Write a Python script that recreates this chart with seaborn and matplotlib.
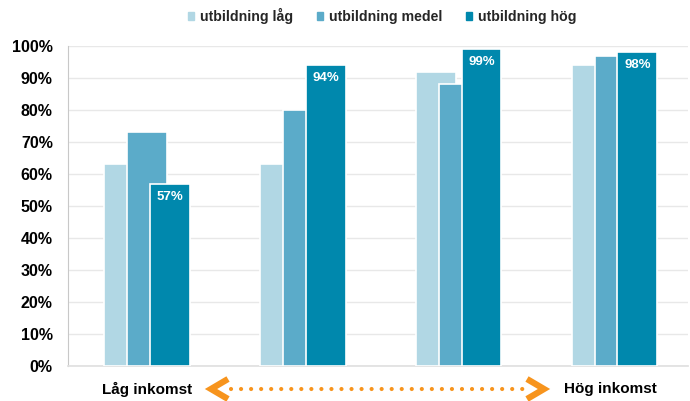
import matplotlib
matplotlib.use("Agg")
import matplotlib.pyplot as plt
import seaborn as sns
import pandas as pd
from matplotlib.lines import Line2D
from matplotlib.patches import Rectangle

groups = ["G1", "G2", "G3", "G4"]
series = ["utbildning låg", "utbildning medel", "utbildning hög"]
vals_lag = [63, 63, 92, 94]
vals_medel = [73, 80, 88, 97]
vals_hog = [57, 94, 99, 98]
yticks = [0, 10, 20, 30, 40, 50, 60, 70, 80, 90, 100]
colors = ["#b1d7e4", "#5babc9", "#0088ad"]

rows = []
for s, vals in zip(series, [vals_lag, vals_medel, vals_hog]):
    for g, v in zip(groups, vals):
        rows.append({"grupp": g, "serie": s, "värde": v})
df = pd.DataFrame(rows)

sns.set_theme(style="white")
plt.rcParams["font.family"] = ["Liberation Sans", "DejaVu Sans"]

fig = plt.figure(figsize=(6.9, 4.01), dpi=100)
ax = fig.add_axes([0.0986, 0.0873, 0.898, 0.798])

sns.barplot(data=df, x="grupp", y="värde", hue="serie", hue_order=series,
            palette=colors, width=0.44, dodge=True, ax=ax, legend=False,
            saturation=1, edgecolor="white", linewidth=1.2, zorder=3)

# widen bars so they overlap like in the reference
bar_w = 0.256
for p in ax.patches:
    p.set_width(bar_w)

ax.set_xlim(-0.451, 3.524)
ax.set_ylim(0, 100)
ax.set_yticks(yticks)
ax.set_yticklabels([f"{t}%" for t in yticks], fontweight="bold", fontsize=11.5, color="black")
ax.set_xticks([])
ax.set_xlabel("")
ax.set_ylabel("")
ax.tick_params(axis="y", length=0, pad=11)
ax.grid(axis="y", color="#e8e8e8", lw=1, zorder=0)
for side in ["top", "right"]:
    ax.spines[side].set_visible(False)
ax.spines["left"].set_color("#c8c8c8")
ax.spines["bottom"].set_color("#e0e0e0")
ax.spines["left"].set_linewidth(0.8)

# data labels on the "hög" bars
hog_patches = ax.patches[2 * len(groups):3 * len(groups)]
for p, v in zip(hog_patches, vals_hog):
    ax.text(p.get_x() + p.get_width() / 2, v - 2.2, f"{v}%", ha="center", va="top",
            color="white", fontweight="bold", fontsize=9.5, zorder=5)

# legend
handles = [Rectangle((0, 0), 1, 1, color=c) for c in colors]
fig.legend(handles, series, loc="upper center", bbox_to_anchor=(0.554, 1.012), ncol=3,
           frameon=False, prop={"weight": "bold", "size": 10.2},
           handlelength=0.42, handleheight=0.42, handletextpad=0.4, columnspacing=1.7)

# bottom annotation
fig.text(147 / 690, 1 - 389 / 401, "Låg inkomst", ha="center", va="center",
         fontweight="bold", fontsize=11, color="black")
fig.text(610 / 690, 1 - 389 / 401, "Hög inkomst", ha="center", va="center",
         fontweight="bold", fontsize=11, color="black")
orange = "#f7941d"
yc = 1 - 389 / 401
fig.add_artist(Line2D([231 / 690, 528 / 690], [yc, yc], transform=fig.transFigure,
                      color=orange, lw=3.0, linestyle=(0, (0.01, 2.4)),
                      dash_capstyle="round"))
dy = 10 / 401
fig.add_artist(Line2D([228 / 690, 211 / 690, 228 / 690], [yc + dy, yc, yc - dy],
                      transform=fig.transFigure, color=orange, lw=4.5,
                      solid_joinstyle="miter", solid_capstyle="butt"))
fig.add_artist(Line2D([527 / 690, 544 / 690, 527 / 690], [yc + dy, yc, yc - dy],
                      transform=fig.transFigure, color=orange, lw=4.5,
                      solid_joinstyle="miter", solid_capstyle="butt"))

fig.savefig("out.png", dpi=100)
